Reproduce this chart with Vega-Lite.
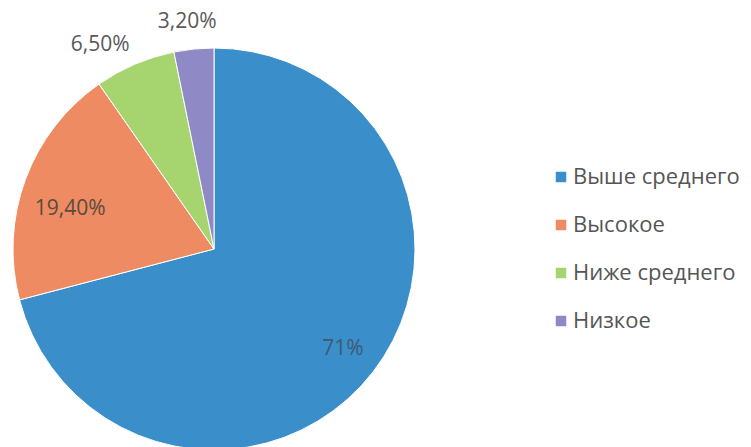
{
  "$schema": "https://vega.github.io/schema/vega-lite/v6.json",
  "width": 428,
  "height": 396,
  "autosize": "none",
  "padding": {"left": 0, "top": 51, "right": 323, "bottom": 0},
  "background": "white",
  "config": {"view": {"stroke": null}, "font": "Open Sans"},
  "data": {"values": [
    {"cat": "Выше среднего", "value": 71, "label": "71%", "o": 1},
    {"cat": "Высокое", "value": 19.4, "label": "19,40%", "o": 2},
    {"cat": "Ниже среднего", "value": 6.5, "label": "6,50%", "o": 3},
    {"cat": "Низкое", "value": 3.2, "label": "3,20%", "o": 4}
  ]},
  "encoding": {
    "theta": {"field": "value", "type": "quantitative", "stack": true},
    "order": {"field": "o", "type": "quantitative"}
  },
  "layer": [
    {
      "mark": {"type": "arc", "outerRadius": 201, "stroke": "white", "strokeWidth": 1},
      "encoding": {
        "color": {
          "field": "cat", "type": "nominal",
          "sort": ["Выше среднего", "Высокое", "Ниже среднего", "Низкое"],
          "scale": {"domain": ["Выше среднего", "Высокое", "Ниже среднего", "Низкое"], "range": ["#3a8fcb", "#ee8b62", "#a6d46e", "#8f8ac6"]},
          "legend": {
            "title": null, "orient": "none", "legendX": 550, "legendY": 115,
            "symbolType": "square", "symbolSize": 110, "symbolStrokeWidth": 0,
            "labelFontSize": 22, "labelColor": "#555555", "labelFont": "Open Sans",
            "labelLimit": 0, "rowPadding": 26, "labelOffset": 1
          }
        }
      }
    },
    {
      "mark": {"type": "text", "radius": 163, "fontSize": 21, "color": "#3e5a74"},
      "encoding": {"text": {"condition": {"test": "datum.o == 1", "field": "label"}, "value": ""}}
    },
    {
      "mark": {"type": "text", "radius": 149, "fontSize": 21, "color": "#5a4a40", "dx": -4, "dy": 12},
      "encoding": {"text": {"condition": {"test": "datum.o == 2", "field": "label"}, "value": ""}}
    },
    {
      "mark": {"type": "text", "radius": 233, "fontSize": 21, "color": "#595959", "dx": -22, "dy": 10},
      "encoding": {"text": {"condition": {"test": "datum.o == 3", "field": "label"}, "value": ""}}
    },
    {
      "mark": {"type": "text", "radius": 228, "fontSize": 21, "color": "#595959", "dx": -4},
      "encoding": {"text": {"condition": {"test": "datum.o == 4", "field": "label"}, "value": ""}}
    }
  ]
}
